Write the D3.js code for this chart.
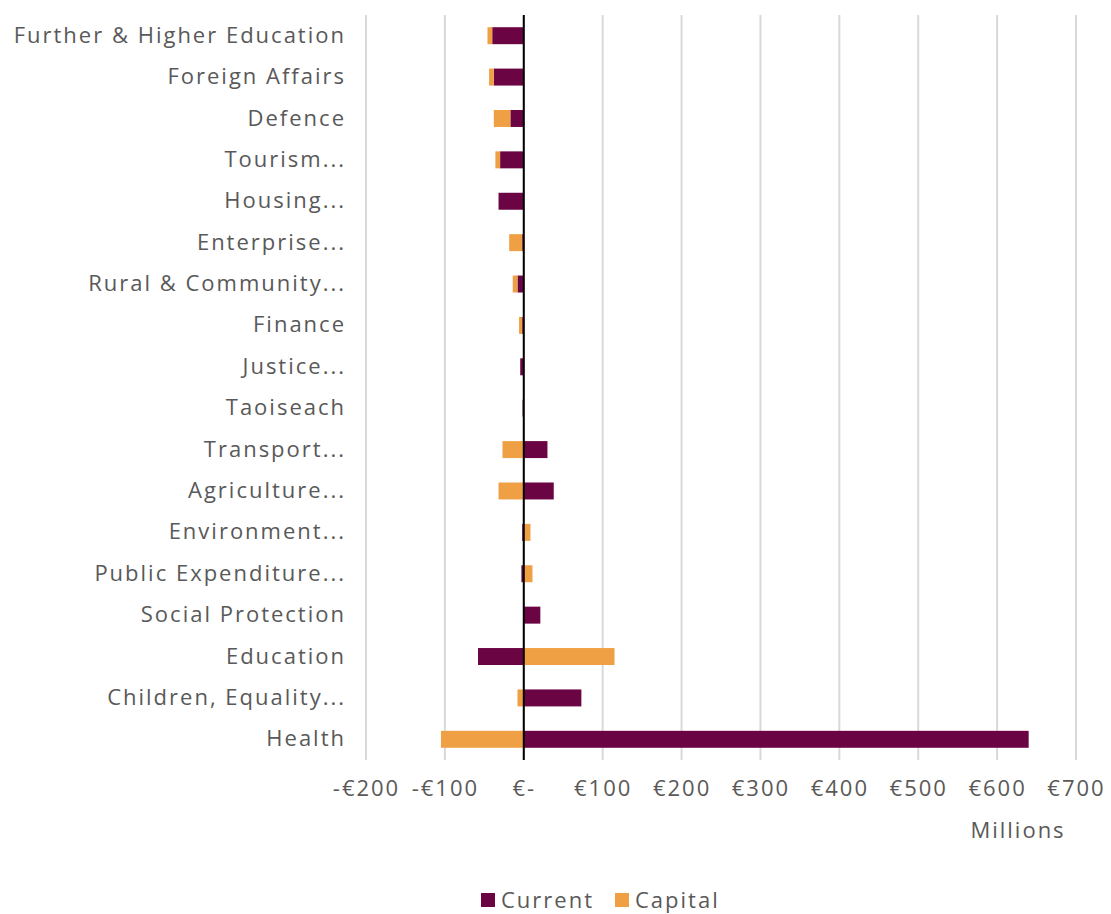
<!DOCTYPE html>
<html>
<head>
<meta charset="utf-8">
<script src="https://cdn.jsdelivr.net/npm/d3@7"></script>
<style>
  html, body { margin: 0; padding: 0; background: #fff; }
  svg { display: block; }
  text { font-family: "Open Sans", sans-serif; fill: #595959; letter-spacing: 2px; }
</style>
</head>
<body>
<svg id="chart" width="1111" height="914"></svg>
<script>
const categories = [
  "Further & Higher Education", "Foreign Affairs", "Defence", "Tourism...",
  "Housing...", "Enterprise...", "Rural & Community...", "Finance",
  "Justice...", "Taoiseach", "Transport...", "Agriculture...",
  "Environment...", "Public Expenditure...", "Social Protection", "Education",
  "Children, Equality...", "Health"
];
const currentValues = [-40, -38, -17, -30, -32, -2, -8, -2, -4.5, -1.5, 30, 38, -2, -3, 21, -58, 73, 640];
const capitalValues = [-6, -6, -21, -6, 0, -16.5, -6, -4, 0, 0, -27, -32, 8.5, 11, 0, 115, -8, -105];
const seriesNames = ["Current", "Capital"];
const seriesColors = ["#6B0442", "#F0A044"];
const tickValues = [-200, -100, 0, 100, 200, 300, 400, 500, 600, 700];
const axisTitle = "Millions";

const svg = d3.select("#chart");
const margin = { left: 366, right: 35, top: 15, bottom: 154 };
const W = 1111, H = 914;

const x = d3.scaleLinear().domain([-200, 700]).range([margin.left, W - margin.right]);
const y = d3.scaleBand().domain(categories).range([margin.top, H - margin.bottom]).paddingInner(0.59).paddingOuter(0.295);

const rows = categories.map((c, i) => ({ cat: c, Current: currentValues[i], Capital: capitalValues[i] }));
const stacked = d3.stack().keys(seriesNames).offset(d3.stackOffsetDiverging)(rows);

// gridlines
svg.append("g").selectAll("line").data(tickValues).join("line")
  .attr("x1", d => x(d)).attr("x2", d => x(d))
  .attr("y1", margin.top).attr("y2", H - margin.bottom)
  .attr("stroke", "#d9d9d9").attr("stroke-width", 2);

// bars
svg.append("g").selectAll("g").data(stacked).join("g")
  .attr("fill", (d, i) => seriesColors[i])
  .selectAll("rect").data(d => d).join("rect")
  .attr("x", d => x(Math.min(d[0], d[1])))
  .attr("width", d => Math.abs(x(d[1]) - x(d[0])))
  .attr("y", d => y(d.data.cat))
  .attr("height", y.bandwidth());

// zero line
svg.append("line")
  .attr("x1", x(0)).attr("x2", x(0))
  .attr("y1", margin.top).attr("y2", H - margin.bottom)
  .attr("stroke", "#000").attr("stroke-width", 2);

// category labels
const yAxis = d3.axisLeft(y).tickSize(0).tickPadding(20);
const gy = svg.append("g").attr("transform", `translate(${margin.left},0)`).call(yAxis);
gy.select(".domain").remove();
gy.selectAll("text").style("font-size", "22px").style("font-family", '"Open Sans", sans-serif').attr("fill", "#595959");

// x axis labels
const fmt = v => v < 0 ? "-€" + Math.abs(v) : (v === 0 ? "€-" : "€" + v);
const xAxis = d3.axisBottom(x).tickValues(tickValues).tickFormat(fmt).tickSize(0).tickPadding(20);
const gx = svg.append("g").attr("transform", `translate(0,${H - margin.bottom})`).call(xAxis);
gx.select(".domain").remove();
gx.selectAll("text").style("font-size", "22px").style("font-family", '"Open Sans", sans-serif').attr("fill", "#595959");

// axis title
svg.append("text").attr("x", 1018).attr("y", 838).attr("text-anchor", "middle")
  .style("font-size", "22px").text(axisTitle);

// legend
const legend = svg.append("g");
const legendX = [481, 615];
seriesNames.forEach((s, i) => {
  legend.append("rect").attr("x", legendX[i]).attr("y", 893).attr("width", 14).attr("height", 14).attr("fill", seriesColors[i]);
  legend.append("text").attr("x", legendX[i] + 20).attr("y", 908).style("font-size", "22px").text(s);
});
</script>
</body>
</html>
